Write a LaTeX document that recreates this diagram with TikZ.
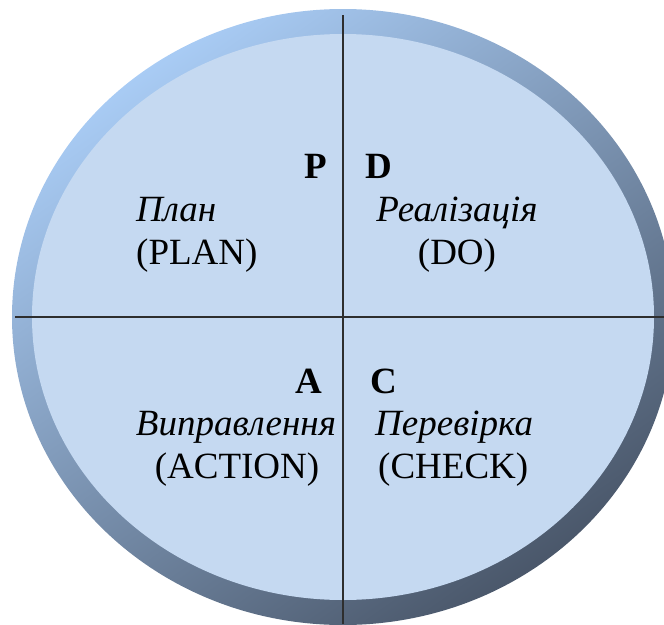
\documentclass[tikz,border=0pt]{standalone}
\usepackage{fontspec}
\setmainfont{Liberation Serif}
\begin{document}
\begin{tikzpicture}[x=1pt,y=-1pt,
  lbl/.style={inner sep=0pt,font=\fontsize{37}{44}\selectfont},
  ltr/.style={inner sep=0pt,font=\fontsize{37}{44}\selectfont\bfseries},
  axisline/.style={line width=2.6pt,draw=black!82}]
\definecolor{fillblue}{HTML}{C5D9F1}
\definecolor{rimlight}{HTML}{A9CCF5}
\definecolor{rimdark}{HTML}{4A576A}
\useasboundingbox (0,0) rectangle (664,624);
\clip (0,0) rectangle (664,624);
\coordinate (ctr) at (343,317);
\shade[top color=rimlight, bottom color=rimdark, shading angle=35]
  (ctr) ellipse [x radius=331, y radius=308];
\fill[fillblue] (ctr) ellipse [x radius=311, y radius=283];
\coordinate (vtop) at (343,15);
\coordinate (vbot) at (343,624);
\coordinate (hl) at (15,317);
\coordinate (hr) at (664,317);
\draw[axisline] (vtop) -- (vbot);
\draw[axisline] (hl) -- (hr);
% letters
\node[ltr,anchor=base east] (P) at (327,178) {P};
\node[ltr,anchor=base west] (D) at (365,178) {D};
\node[ltr,anchor=base east] (A) at (322,393) {A};
\node[ltr,anchor=base west] (C) at (370,393) {C};
% texts
\node[lbl,anchor=base west] (plan) at (136,221) {\itshape План};
\node[lbl,anchor=base west] (planen) at (136,264) {(PLAN)};
\node[lbl,anchor=base] (real) at (457,221) {\itshape Реалізація};
\node[lbl,anchor=base] (do) at (457,264) {(DO)};
\node[lbl,anchor=base] (vypr) at (236,435) {\itshape Виправлення};
\node[lbl,anchor=base] (action) at (237,478) {(ACTION)};
\node[lbl,anchor=base west] (perev) at (375,435) {\itshape Перевірка};
\node[lbl,anchor=base west] (check) at (378,478) {(CHECK)};
\end{tikzpicture}
\end{document}
